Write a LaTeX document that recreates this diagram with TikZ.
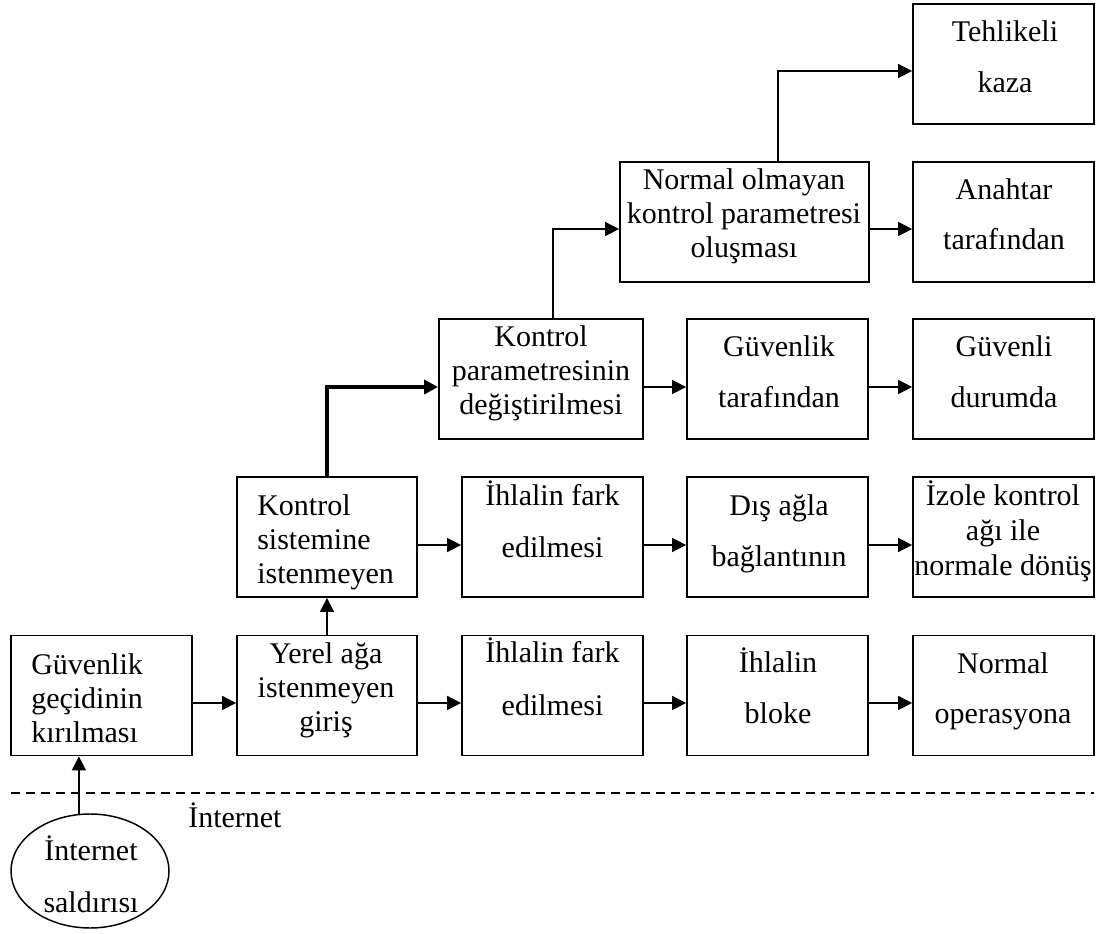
\documentclass[tikz,border=0pt]{standalone}
\usepackage{fontspec}
\setmainfont{Liberation Serif}
\usetikzlibrary{arrows.meta,shapes.geometric}
% block of lines: #1 = line spacing, #2 = column alignment, #3 = lines
\newcommand\blocktext[3]{{\fontsize{22.5pt}{#1}\selectfont\begin{tabular}[t]{@{}#2@{}}#3\end{tabular}}}
\begin{document}
\begin{tikzpicture}[x=0.75pt,y=-0.75pt,
  box/.style={draw, line width=1.3pt, inner sep=0pt, minimum height=90pt, minimum width=135.75pt},
  txt/.style={inner sep=0pt, anchor=base},
  txtl/.style={inner sep=0pt, anchor=base west},
  arr/.style={-{Triangle[length=10.5pt,width=10.5pt]}, line width=1.1pt},
  thickarr/.style={arr, line width=2.6pt}]
\useasboundingbox (0,0) rectangle (1100,934);

% bottom row
\node[box] (gk) at (101.5,695.5) {};
\node[box, minimum width=135pt] (yerel) at (327,695.5) {};
\node[box] (ih1) at (552.5,695.5) {};
\node[box] (blok) at (777.5,695.5) {};
\node[box] (nop) at (1003.5,695.5) {};
% second row
\node[box, minimum width=135pt] (ks) at (327,537) {};
\node[box] (ih2) at (552.5,537) {};
\node[box] (dis) at (777.5,537) {};
\node[box] (izo) at (1003.5,537) {};
% third row
\node[box, minimum width=153pt] (kp) at (541,379) {};
\node[box] (gt) at (777.5,379) {};
\node[box] (gd) at (1003.5,379) {};
% fourth row
\node[box, minimum width=186.75pt] (no) at (744.5,222) {};
\node[box] (an) at (1003.5,222) {};
% top
\node[box] (teh) at (1003.5,64) {};
% attack source
\node[draw, ellipse, line width=1.1pt, inner sep=0pt, minimum width=118.5pt, minimum height=85.5pt] (ell) at (90,871) {};

% texts
\node[txtl] (gk-t) at (31,674) {\blocktext{25.5pt}{l}{Güvenlik\\geçidinin\\kırılması}};
\node[txt] (yerel-t) at (326,663) {\blocktext{25.5pt}{c}{Yerel ağa\\istenmeyen\\giriş}};
\node[txt] (ih1-t) at (552.5,662) {\blocktext{39.75pt}{c}{İhlalin fark\\edilmesi}};
\node[txt] (blok-t) at (778,672) {\blocktext{38.25pt}{c}{İhlalin\\bloke}};
\node[txt] (nop-t) at (1003,673) {\blocktext{37.5pt}{c}{Normal\\operasyona}};

\node[txtl] (ks-t) at (257,515) {\blocktext{25.5pt}{l}{Kontrol\\sistemine\\istenmeyen}};
\node[txt] (ih2-t) at (552.5,505) {\blocktext{39pt}{c}{İhlalin fark\\edilmesi}};
\node[txt] (dis-t) at (779,515) {\blocktext{38.25pt}{c}{Dış ağla\\bağlantının}};
\node[txt] (izo-t) at (1003,505) {\blocktext{26.25pt}{c}{İzole kontrol\\ağı ile\\normale dönüş}};

\node[txt] (kp-t) at (541,347) {\blocktext{25.5pt}{c}{Kontrol\\parametresinin\\değiştirilmesi}};
\node[txt] (gt-t) at (779,357) {\blocktext{38.25pt}{c}{Güvenlik\\tarafından}};
\node[txt] (gd-t) at (1004,357) {\blocktext{38.25pt}{c}{Güvenli\\durumda}};

\node[txt] (no-t) at (744,190) {\blocktext{25.5pt}{c}{Normal olmayan\\kontrol parametresi\\oluşması}};
\node[txt] (an-t) at (1004,200) {\blocktext{37.5pt}{c}{Anahtar\\tarafından}};

\node[txt] (teh-t) at (1005,42) {\blocktext{38.25pt}{c}{Tehlikeli\\kaza}};

\node[txt] (ell-t) at (91,860) {\blocktext{39pt}{c}{İnternet\\saldırısı}};
\node[txtl] (inet) at (188,827) {\fontsize{22.5pt}{25.5pt}\selectfont İnternet};

% network boundary
\coordinate (dl) at (11,793);
\coordinate (dr) at (1094,793);
\draw[line width=1pt, dash pattern=on 6.75pt off 4.5pt] (dl) -- (dr);

% connectors
\draw[arr] (ell.101) -- (ell.101 |- gk.south);
\draw[arr] ([yshift=-5.6pt]gk.east) -- ([yshift=-5.6pt]yerel.west);
\draw[arr] ([yshift=-5.6pt]yerel.east) -- ([yshift=-5.6pt]ih1.west);
\draw[arr] ([yshift=-5.6pt]ih1.east) -- ([yshift=-5.6pt]blok.west);
\draw[arr] ([yshift=-5.6pt]blok.east) -- ([yshift=-5.6pt]nop.west);

\draw[arr] (yerel.north) -- (ks.south);
\draw[arr] ([yshift=-6pt]ks.east) -- ([yshift=-6pt]ih2.west);
\draw[arr] ([yshift=-6pt]ih2.east) -- ([yshift=-6pt]dis.west);
\draw[arr] ([yshift=-6pt]dis.east) -- ([yshift=-6pt]izo.west);

\draw[thickarr] (ks.north) |- ([yshift=-6pt]kp.west);
\draw[arr] ([yshift=-6pt]kp.east) -- ([yshift=-6pt]gt.west);
\draw[arr] ([yshift=-6pt]gt.east) -- ([yshift=-6pt]gd.west);

\draw[arr] ([xshift=9pt]kp.north) |- ([yshift=-5.25pt]no.west);
\draw[arr] ([yshift=-5.25pt]no.east) -- ([yshift=-5.25pt]an.west);
\draw[arr] ([xshift=25.1pt]no.north) |- ([yshift=-5.25pt]teh.west);
\end{tikzpicture}
\end{document}
